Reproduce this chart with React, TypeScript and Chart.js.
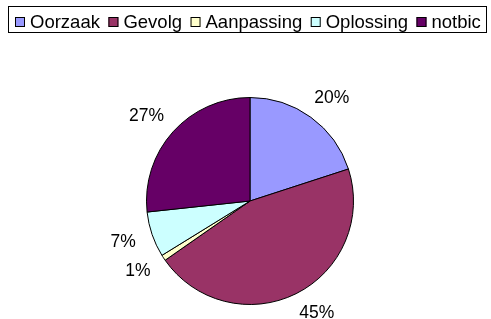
import React, { useEffect, useRef } from "react";
import { Chart, registerables } from "chart.js";

Chart.register(...registerables);

const categories = ["Oorzaak", "Gevolg", "Aanpassing", "Oplossing", "notbic"];
const values = [20.0, 45.3, 0.9, 7.1, 26.7];
const colors = ["#9999FF", "#993366", "#FFFFCC", "#CCFFFF", "#660066"];

const FONT = "Liberation Sans, Arial, Helvetica, sans-serif";

const boxedLegend = {
  id: "boxedLegend",
  afterDraw(chart: any) {
    const ctx = chart.ctx;
    const labels: string[] = chart.data.labels;
    const bg: string[] = chart.data.datasets[0].backgroundColor;
    ctx.save();
    ctx.lineWidth = 1;
    ctx.strokeStyle = "#000";
    ctx.strokeRect(8.5, 6.5, 478, 26);
    ctx.font = `18.5px ${FONT}`;
    ctx.textBaseline = "middle";
    ctx.textAlign = "left";
    let x = 15;
    const cy = 22;
    labels.forEach((lab, i) => {
      ctx.fillStyle = bg[i];
      ctx.fillRect(x, cy - 5, 10, 10);
      ctx.strokeStyle = "#000";
      ctx.strokeRect(x + 0.5, cy - 4.5, 9, 9);
      ctx.fillStyle = "#000";
      ctx.fillText(lab, x + 15, cy + 1);
      x = x + 15 + ctx.measureText(lab).width + 8.5;
    });
    ctx.restore();
  },
};

const outsideLabels = {
  id: "outsideLabels",
  afterDatasetsDraw(chart: any) {
    const ctx = chart.ctx;
    const meta = chart.getDatasetMeta(0);
    const data: number[] = chart.data.datasets[0].data;
    const total = data.reduce((a, b) => a + b, 0);
    const maxCy = chart.height - 6;
    ctx.save();
    ctx.font = `17.5px ${FONT}`;
    ctx.fillStyle = "#000";
    ctx.textAlign = "center";
    ctx.textBaseline = "middle";
    meta.data.forEach((arc: any, i: number) => {
      const { x, y, startAngle, endAngle, outerRadius } = arc.getProps(
        ["x", "y", "startAngle", "endAngle", "outerRadius"],
        true
      );
      let mid = (startAngle + endAngle) / 2;
      const txt = Math.round((data[i] / total) * 100) + "%";
      const w = ctx.measureText(txt).width;
      const h = 12;
      const d = outerRadius + 18;
      const place = (a: number) => ({
        cx: x + Math.cos(a) * (d + w / 2),
        cy: y + Math.sin(a) * (d + h / 2),
      });
      let p = place(mid);
      // keep the label inside the canvas: slide it along the circle toward horizontal
      let guard = 0;
      while (p.cy > maxCy && guard < 200) {
        mid += Math.cos(mid) >= 0 ? -0.005 : 0.005;
        p = place(mid);
        guard++;
      }
      ctx.fillText(txt, p.cx, p.cy);
    });
    ctx.restore();
  },
};

export default function App() {
  const ref = useRef<HTMLCanvasElement>(null);
  useEffect(() => {
    if (!ref.current) return;
    const chart = new Chart(ref.current, {
      type: "pie",
      data: {
        labels: categories,
        datasets: [
          {
            data: values,
            backgroundColor: colors,
            borderColor: "#000",
            borderWidth: 1,
          },
        ],
      },
      options: {
        responsive: false,
        animation: false,
        devicePixelRatio: 1,
        layout: { padding: { top: 97, bottom: 14, left: 9, right: 0 } },
        plugins: {
          legend: { display: false },
          tooltip: { enabled: false },
        },
      },
      plugins: [boxedLegend, outsideLabels],
    });
    return () => chart.destroy();
  }, []);
  return (
    <div style={{ position: "fixed", left: 0, top: 0, width: 491, height: 319, background: "#fff" }}>
      <canvas ref={ref} width={491} height={319} style={{ display: "block" }} />
    </div>
  );
}
